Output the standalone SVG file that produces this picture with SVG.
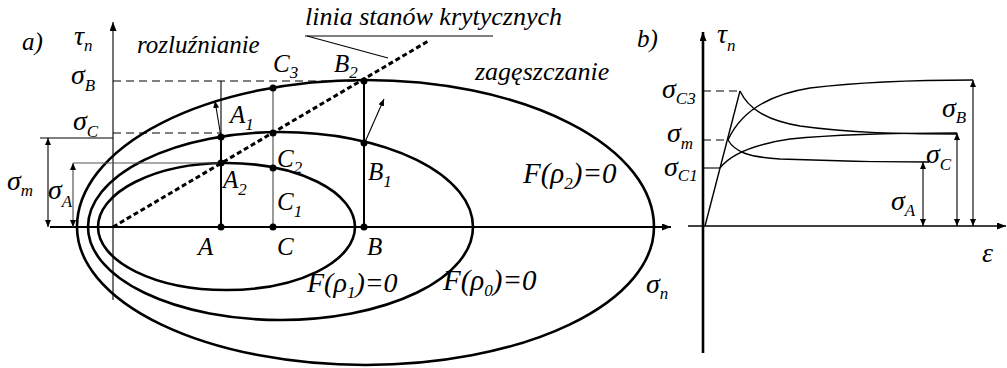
<svg xmlns="http://www.w3.org/2000/svg" width="1007" height="368" viewBox="0 0 1007 368">
<style>
text{font-family:'Liberation Serif','Times New Roman','Tinos','Noto Serif','DejaVu Serif',serif;font-style:italic;font-size:25px;fill:#000}
.g{font-size:28px}
.s{font-size:17px}
.th{fill:none;stroke:#000;stroke-width:2.6}
.ax{fill:none;stroke:#000;stroke-width:2.2}
.tn{fill:none;stroke:#000;stroke-width:1.1}
.gr{fill:none;stroke:#555;stroke-width:1.2}
.ds{fill:none;stroke:#000;stroke-width:1.1;stroke-dasharray:8,5}
.cs{fill:none;stroke:#000;stroke-width:3;stroke-dasharray:5,3}
.cv{fill:none;stroke:#000;stroke-width:1.4}
</style>
<defs>
<marker id="ah" markerUnits="userSpaceOnUse" markerWidth="9" markerHeight="7" refX="9" refY="3.5" orient="auto-start-reverse"><path d="M0,0 L9,3.5 L0,7 z" fill="#000"/></marker>
<marker id="ahs" markerUnits="userSpaceOnUse" markerWidth="7" markerHeight="6" refX="7" refY="3" orient="auto-start-reverse"><path d="M0,0 L7,3 L0,6 z" fill="#000"/></marker>
</defs>

<g id="panel-a">
<g id="axes-a">
<line class="ax" x1="50" y1="227" x2="671" y2="227" marker-end="url(#ah)"/>
<line class="tn" x1="113" y1="300" x2="113" y2="22" marker-end="url(#ah)"/>
</g>
<g id="ellipses">
<path id="F-rho2" class="th" d="M77,227 A288.5,147 0 0 1 654,227 A288.5,138 0 0 1 77,227 Z"/>
<path id="F-rho0" class="th" d="M88,227 A192.5,95 0 0 1 473,227 A192.5,93 0 0 1 88,227 Z"/>
<path id="F-rho1" class="th" d="M98,227 A128.5,64 0 0 1 355,227 A128.5,63 0 0 1 98,227 Z"/>
</g>
<g id="connectors">
<line class="cs" x1="113" y1="227" x2="430" y2="40"/>
<line class="tn" x1="305" y1="36" x2="493" y2="36"/>
<line class="tn" x1="307" y1="36" x2="388" y2="58"/>
<line class="ds" x1="113" y1="81" x2="364" y2="81"/>
<line class="ds" x1="113" y1="133" x2="221" y2="133"/>
<line class="tn" x1="40" y1="138" x2="113" y2="138"/>
<line class="gr" x1="73" y1="163" x2="221" y2="163"/>
<line class="tn" x1="48" y1="138" x2="48" y2="227" marker-start="url(#ahs)" marker-end="url(#ahs)"/>
<line class="gr" x1="73" y1="163" x2="73" y2="227" marker-start="url(#ahs)" marker-end="url(#ahs)"/>
<line class="tn" x1="221" y1="81" x2="221" y2="137"/>
<line stroke="#000" stroke-width="2" x1="221" y1="137" x2="221" y2="227"/>
<line class="gr" x1="273" y1="88" x2="273" y2="227"/>
<line stroke="#000" stroke-width="2" x1="364" y1="81" x2="364" y2="227"/>
<line class="tn" x1="221" y1="137" x2="215" y2="101" marker-end="url(#ahs)"/>
<line class="tn" x1="365" y1="142" x2="384" y2="99" marker-end="url(#ahs)"/>
</g>
<g id="points" fill="#000">
<circle cx="221" cy="227" r="3.5"/><circle cx="273" cy="227" r="3.5"/><circle cx="364" cy="227" r="3.5"/>
<circle cx="221" cy="163" r="3.5"/><circle cx="221" cy="137" r="3.5"/>
<circle cx="273" cy="133" r="3.5"/><circle cx="273" cy="168" r="3.5"/><circle cx="273" cy="88" r="3.5"/>
<circle cx="364" cy="81" r="3.5"/><circle cx="364" cy="143" r="3.5"/>
</g>
<g id="labels-a">
<text x="22" y="50">a)</text>
<text class="g" x="74" y="45">τ<tspan class="s" dy="6">n</tspan></text>
<text x="137" y="53">rozluźnianie</text>
<text x="305" y="25" style="font-size:26px">linia stanów krytycznych</text>
<text x="475" y="80" style="font-size:26px">zagęszczanie</text>
<text x="273" y="72">C<tspan class="s" dy="6">3</tspan></text>
<text x="334" y="72">B<tspan class="s" dy="6">2</tspan></text>
<text class="g" x="71" y="84">σ<tspan class="s" dy="7">B</tspan></text>
<text class="g" x="73" y="130">σ<tspan class="s" dy="7">C</tspan></text>
<text class="g" x="7" y="190">σ<tspan class="s" dy="6">m</tspan></text>
<text class="g" x="48" y="199">σ<tspan class="s" dy="8">A</tspan></text>
<text x="230" y="123">A<tspan class="s" dy="7">1</tspan></text>
<text x="223" y="188">A<tspan class="s" dy="7">2</tspan></text>
<text x="277" y="167">C<tspan class="s" dy="6">2</tspan></text>
<text x="277" y="210">C<tspan class="s" dy="7">1</tspan></text>
<text x="368" y="180">B<tspan class="s" dy="7">1</tspan></text>
<text x="198" y="255">A</text>
<text x="277" y="255">C</text>
<text x="367" y="255">B</text>
<text x="523" y="183" style="font-size:29px">F(ρ<tspan class="s" dy="6">2</tspan><tspan dy="-6">)=0</tspan></text>
<text x="307" y="292" style="font-size:28px">F(ρ<tspan class="s" dy="6">1</tspan><tspan dy="-6">)=0</tspan></text>
<text x="443" y="290" style="font-size:29px">F(ρ<tspan class="s" dy="6">0</tspan><tspan dy="-6">)=0</tspan></text>
<text class="g" x="646" y="293">σ<tspan class="s" dy="6">n</tspan></text>
</g>
</g>

<g id="panel-b">
<g id="axes-b">
<line stroke="#000" stroke-width="2.6" x1="703" y1="353" x2="703" y2="32" marker-end="url(#ah)"/>
<line stroke="#000" stroke-width="1.6" x1="688" y1="226" x2="1006" y2="226" marker-end="url(#ah)"/>
</g>
<g id="curves">
<line class="cv" x1="705" y1="226" x2="740" y2="91"/>
<line class="ds" x1="703" y1="91" x2="740" y2="91"/>
<line class="ds" x1="703" y1="140" x2="728" y2="140"/>
<line class="tn" x1="703" y1="168" x2="720" y2="168"/>
<path class="cv" d="M728,140 C738,118 760,96 810,88 C860,82 920,80 973,80"/>
<path class="cv" d="M728,140 C735,152 748,157 780,159 C830,161 880,162 929,162"/>
<path class="cv" d="M720,168 C730,155 750,145 790,139 C840,134 900,133 957,133"/>
<path class="cv" d="M740,91 C748,108 765,120 800,126 C850,133 900,134 957,134"/>
</g>
<g id="dims-b">
<line class="tn" x1="923" y1="162" x2="923" y2="226" marker-start="url(#ahs)" marker-end="url(#ahs)"/>
<line class="tn" x1="957" y1="133" x2="957" y2="226" marker-start="url(#ahs)" marker-end="url(#ahs)"/>
<line class="tn" x1="973" y1="80" x2="973" y2="226" marker-start="url(#ahs)" marker-end="url(#ahs)"/>
</g>
<g id="labels-b">
<text x="637" y="47">b)</text>
<text class="g" x="717" y="43">τ<tspan class="s" dy="8">n</tspan></text>
<text class="g" x="662" y="98">σ<tspan class="s" dy="6">C3</tspan></text>
<text class="g" x="667" y="142">σ<tspan class="s" dy="7">m</tspan></text>
<text class="g" x="664" y="176">σ<tspan class="s" dy="5">C1</tspan></text>
<text class="g" x="942" y="117">σ<tspan class="s" dy="6">B</tspan></text>
<text class="g" x="926" y="163">σ<tspan class="s" dy="7">C</tspan></text>
<text class="g" x="891" y="210">σ<tspan class="s" dy="6">A</tspan></text>
<text class="g" x="982" y="262">ε</text>
</g>
</g>
</svg>
